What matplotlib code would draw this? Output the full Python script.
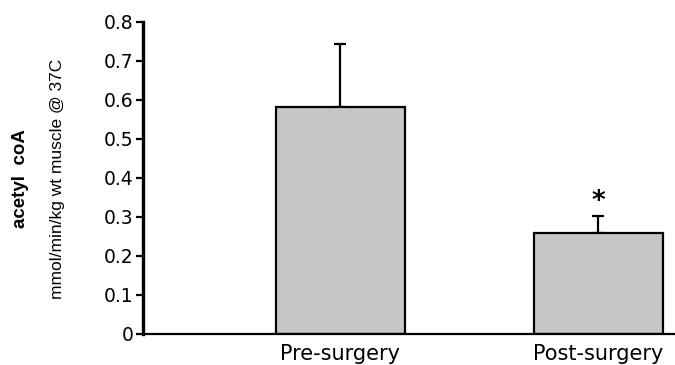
import matplotlib
matplotlib.use("Agg")
import matplotlib.pyplot as plt
from matplotlib import font_manager

categories = ["Pre-surgery", "Post-surgery"]
means = [0.582, 0.260]
errors = [0.162, 0.043]
yticks = [0, 0.1, 0.2, 0.3, 0.4, 0.5, 0.6, 0.7, 0.8]
ytick_labels = ["0", "0.1", "0.2", "0.3", "0.4", "0.5", "0.6", "0.7", "0.8"]
sig_marks = ["", "*"]

names = {f.name for f in font_manager.fontManager.ttflist}
narrow = "Liberation Sans Narrow" if "Liberation Sans Narrow" in names else "Liberation Sans"

fig = plt.figure(figsize=(6.75, 3.65), dpi=100)
ax = fig.add_axes([0.212, 0.085, 0.788, 0.855])

x = [1, 2]
ax.bar(x, means, width=0.5, color="#c6c6c6", edgecolor="black", linewidth=1.6, zorder=2)
ax.errorbar(x, means, yerr=[[0, 0], errors], fmt="none", ecolor="black",
            elinewidth=1.6, capsize=4, capthick=1.6, zorder=1)
for xi, m, e, s in zip(x, means, errors, sig_marks):
    if s:
        ax.text(xi, m + e + 0.035, s, ha="center", va="center", fontsize=19,
                fontweight="bold", family="DejaVu Sans")

ax.set_xlim(0.236, 2.298)
ax.set_ylim(0, 0.8)
ax.set_yticks(yticks)
ax.set_yticklabels(ytick_labels, family="DejaVu Sans", fontsize=13.5)
ax.set_xticks(x)
ax.set_xticklabels(categories, family="DejaVu Sans", fontsize=15)
ax.tick_params(axis="x", length=0, pad=7)
ax.tick_params(axis="y", length=5, width=1.6, pad=2)
for side in ["top", "right"]:
    ax.spines[side].set_visible(False)
ax.spines["left"].set_linewidth(2.4)
ax.spines["bottom"].set_linewidth(1.6)

fig.text(0.031, 0.51, "acetyl  coA", rotation=90, ha="center", va="center",
         fontsize=13.5, fontweight="bold", family=[narrow, "DejaVu Sans"])
fig.text(0.085, 0.51, "mmol/min/kg wt muscle @ 37C", rotation=90, ha="center",
         va="center", fontsize=12.5, family=[narrow, "DejaVu Sans"])

fig.savefig("out.png", dpi=100)
